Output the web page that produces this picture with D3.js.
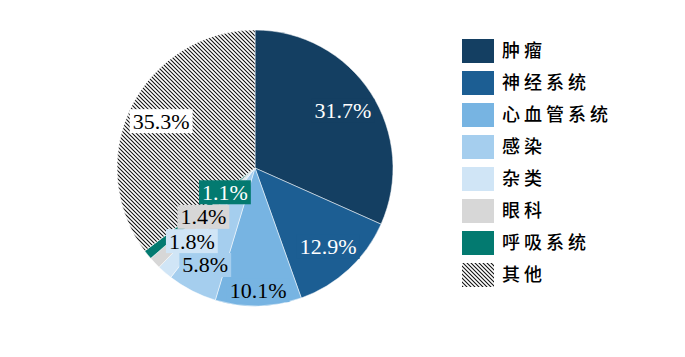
<!DOCTYPE html>
<html><head><meta charset="utf-8">
<script src="https://cdn.jsdelivr.net/npm/d3@7/dist/d3.min.js"></script>
<style>body{margin:0;background:#fff;}svg{display:block;}</style>
</head><body>
<svg id="c" width="685" height="357"></svg>
<script>
const categories = ["肿瘤","神经系统","心血管系统","感染","杂类","眼科","呼吸系统","其他"];
const values = [31.7, 12.9, 10.1, 5.8, 1.8, 1.4, 1.1, 35.3];
const labels = ["31.7%","12.9%","10.1%","5.8%","1.8%","1.4%","1.1%","35.3%"];

const colors = ["#143F62","#1C5E93","#77B4E2","#A5CEEE","#D0E5F6","#D7D7D7","#037A70","url(#hatch)"];
const labelBg = ["#143F62","#1C5E93","#77B4E2","#A5CEEE","#D0E5F6","#D7D7D7","#037A70","#ffffff"];
const labelColor = ["#fff","#fff","#000","#000","#000","#000","#fff","#000"];
const labelR = [0.76,0.78,0.885,0.79,0.70,0.515,0.28,0.76];

const svg = d3.select("#c");
const defs = svg.append("defs");
const pat = defs.append("pattern").attr("id","hatch").attr("patternUnits","userSpaceOnUse")
  .attr("width",4).attr("height",4);
pat.append("rect").attr("width",4).attr("height",4).attr("fill","#fff");
pat.append("path").attr("d","M0,0L4,4M-1,3L1,5M3,-1L5,1").attr("stroke","#111").attr("stroke-width",1.1);

const cx = 255, cy = 168, R = 138;
const g = svg.append("g").attr("transform",`translate(${cx},${cy})`);
const pie = d3.pie().sort(null).value(d=>d)(values);
const arc = d3.arc().innerRadius(0).outerRadius(R);
g.selectAll("path.s").data(pie).join("path").attr("class","s")
  .attr("d",arc).attr("fill",(d,i)=>colors[i]).attr("stroke","#fff").attr("stroke-width",0.5);

const fs = 22;
pie.forEach((d,i)=>{
  const a = (d.startAngle+d.endAngle)/2;
  const r = R*labelR[i];
  const x = Math.sin(a)*r, y = -Math.cos(a)*r;
  const lg = g.append("g").attr("transform",`translate(${x},${y})`);
  const t = lg.append("text").attr("text-anchor","middle").attr("dy","0.34em")
    .attr("font-family","'Liberation Serif','Times New Roman',serif").attr("font-size",fs)
    .attr("fill",labelColor[i]).text(labels[i]);
  const bb = t.node().getBBox();
  lg.insert("rect","text").attr("x",bb.x-3).attr("y",-12).attr("width",bb.width+6).attr("height",24)
    .attr("fill",labelBg[i]);
});

// legend
const lx = 462, ly = 39, step = 32;
const leg = svg.append("g");
categories.forEach((c,i)=>{
  leg.append("rect").attr("x",lx).attr("y",ly+i*step).attr("width",32).attr("height",24).attr("fill",colors[i]);
  leg.append("text").attr("x",lx+40).attr("y",ly+i*step+12).attr("dy","0.36em")
    .attr("font-family","'Noto Sans CJK SC',sans-serif").attr("font-size",18).attr("font-weight",500)
    .attr("letter-spacing",4).attr("fill","#000").text(c);
});
</script>
</body></html>
